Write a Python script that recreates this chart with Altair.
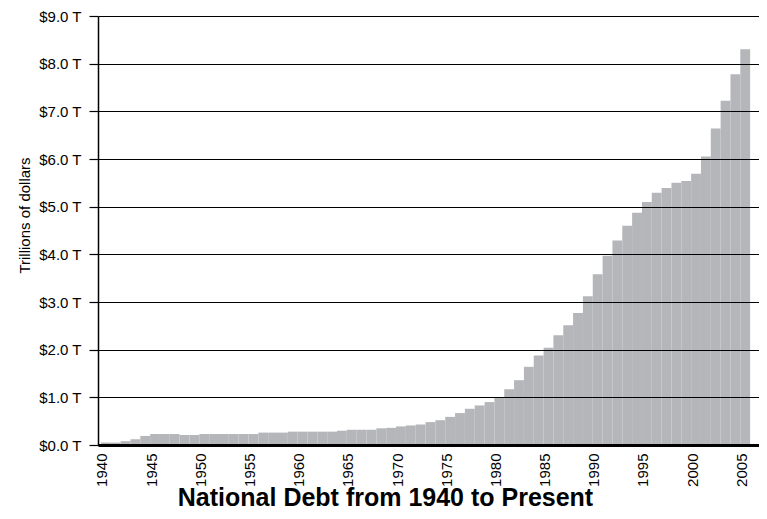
import altair as alt
import pandas as pd

years = list(range(1940, 2006))
debt = [
    0.05, 0.05, 0.08, 0.12, 0.19, 0.23, 0.23, 0.23, 0.21, 0.21,  # 1940-1949
    0.23, 0.23, 0.23, 0.23, 0.23, 0.23, 0.26, 0.26, 0.26, 0.28,  # 1950-1959
    0.28, 0.28, 0.28, 0.28, 0.30, 0.32, 0.32, 0.32, 0.35, 0.36,  # 1960-1969
    0.39, 0.41, 0.43, 0.48, 0.52, 0.59, 0.67, 0.76, 0.83, 0.90,  # 1970-1979
    0.99, 1.17, 1.36, 1.64, 1.88, 2.04, 2.30, 2.51, 2.77, 3.12,  # 1980-1989
    3.58, 3.97, 4.29, 4.60, 4.87, 5.10, 5.29, 5.39, 5.50, 5.54,  # 1990-1999
    5.69, 6.05, 6.64, 7.22, 7.78, 8.30,                          # 2000-2005
]
label_years = [1940, 1945, 1950, 1955, 1960, 1965, 1970, 1975, 1980, 1985, 1990, 1995, 2000, 2005]
y_ticks = [0, 1, 2, 3, 4, 5, 6, 7, 8, 9]

df = pd.DataFrame({"year": years, "debt": debt})
df["year_end"] = df["year"] + 1

FONT = "Liberation Sans"

chart = alt.Chart(df).mark_bar(color="#b5b6ba", strokeWidth=0).encode(
    x=alt.X(
        "year:Q",
        scale=alt.Scale(domain=[1939.7, 2006.9], nice=False, zero=False),
        axis=alt.Axis(
            values=[y + 0.1 for y in label_years],
            labelExpr="'' + round(datum.value)",
            labelAngle=270,
            ticks=False,
            grid=False,
            domainColor="black",
            domainWidth=3,
            labelFont=FONT,
            labelFontSize=15,
            labelColor="black",
            labelPadding=8,
            labelFlush=False,
            labelOverlap=False,
            labelBound=False,
            title="National Debt from 1940 to Present",
            titleFont=FONT,
            titleFontSize=25,
            titleFontWeight="bold",
            titleColor="black",
            titleX=287,
            titleY=60,
            titleAlign="center",
            titleBaseline="alphabetic",
            zindex=1,
        ),
    ),
    x2="year_end:Q",
    y=alt.Y(
        "debt:Q",
        scale=alt.Scale(domain=[0, 9], nice=False),
        axis=alt.Axis(
            values=y_ticks,
            labelExpr="'$' + format(datum.value, '.1f') + ' T'",
            tickSize=9,
            tickColor="black",
            tickWidth=1.2,
            domainColor="black",
            domainWidth=1.5,
            grid=True,
            gridColor="black",
            gridWidth=1.2,
            gridOpacity=1,
            labelFont=FONT,
            labelFontSize=15,
            labelColor="black",
            labelPadding=8,
            title="Trillions of dollars",
            titleFont=FONT,
            titleFontSize=15,
            titleFontWeight="normal",
            titleColor="black",
            titleAngle=270,
            titleX=-69,
            titleY=199,
            titleAlign="center",
            titleBaseline="alphabetic",
            zindex=1,
        ),
    ),
    y2=alt.datum(0),
).properties(
    width=661,
    height=429,
    autosize=alt.AutoSizeParams(type="none"),
    padding={"left": 90, "top": 8, "right": 0, "bottom": 66},
).configure_view(
    stroke="black",
    strokeWidth=1.5,
).configure(
    font=FONT,
    background="white",
)

chart.save("out.html", embed_options={"renderer": "svg", "actions": False})
